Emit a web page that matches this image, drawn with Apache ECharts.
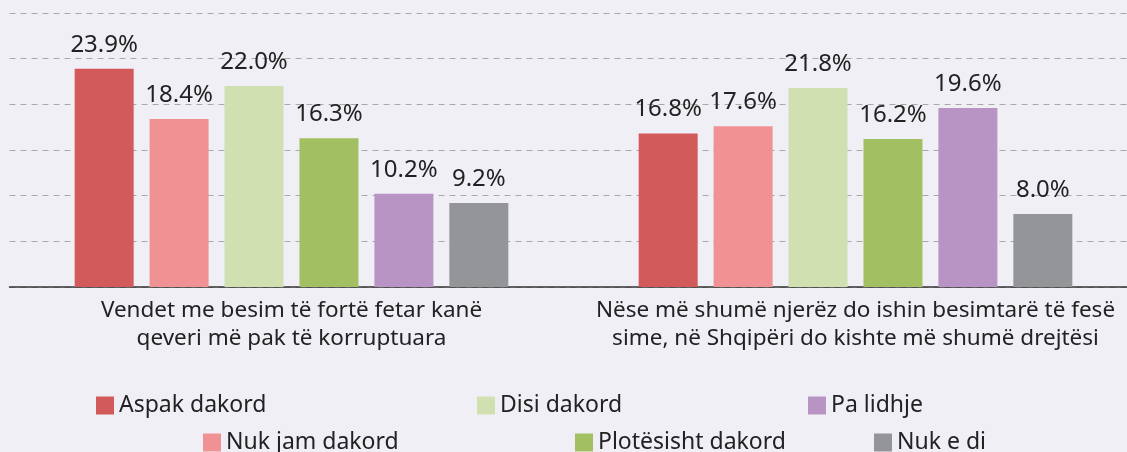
<!DOCTYPE html>
<html>
<head>
<meta charset="utf-8">
<script src="https://cdn.jsdelivr.net/npm/echarts@6/dist/echarts.min.js"></script>
<style>
	html, body { margin: 0; padding: 0; background: #f1eff6; }
	#chart { width: 1127px; height: 452px; }
</style>
</head>
<body>
<div id="chart"></div>
<script>
// ---------- DATA ----------
const categories = [
	'Vendet me besim të fortë fetar kanë\nqeveri më pak të korruptuara',
	'Nëse më shumë njerëz do ishin besimtarë të fesë\nsime, në Shqipëri do kishte më shumë drejtësi'
];
const seriesNames = ['Aspak dakord', 'Nuk jam dakord', 'Disi dakord', 'Plotësisht dakord', 'Pa lidhje', 'Nuk e di'];
const aspakDakord = [23.9, 16.8];
const nukJamDakord = [18.4, 17.6];
const disiDakord = [22.0, 21.8];
const plotesishtDakord = [16.3, 16.2];
const paLidhje = [10.2, 19.6];
const nukEDi = [9.2, 8.0];
const seriesValues = [aspakDakord, nukJamDakord, disiDakord, plotesishtDakord, paLidhje, nukEDi];
const colors = ['#d35a5b', '#f09293', '#d0e0b1', '#a2c062', '#b894c4', '#949599'];

// legend placement (two staggered rows)
const legendPos = [
	{left: 96, top: 394}, {left: 203, top: 431},
	{left: 477, top: 394}, {left: 575, top: 431},
	{left: 808, top: 394}, {left: 874, top: 431}
];

const FONT = '"Noto Sans", sans-serif';

var chart = echarts.init(document.getElementById('chart'));

let options = {
	backgroundColor: '#f1eff6',
	textStyle: { fontFamily: FONT },
	grid: {
		left: 9.5,
		width: 1128,
		top: 13,
		bottom: 165,
		outerBoundsMode: 'none'
	},
	xAxis: {
		type: 'category',
		data: categories,
		axisTick: { show: false },
		axisLine: {
			lineStyle: { color: '#333', width: 1.5 }
		},
		axisLabel: {
			interval: 0,
			margin: 10,
			fontSize: 22.5,
			lineHeight: 28,
			color: '#222',
			fontFamily: FONT
		}
	},
	yAxis: {
		type: 'value',
		min: 0,
		max: 30,
		interval: 5,
		axisLabel: { show: false },
		axisLine: { show: false },
		axisTick: { show: false },
		splitLine: {
			lineStyle: { color: '#a8a8a8', type: [6, 5], width: 1 }
		}
	},
	legend: legendPos.map((p, i) => ({
		data: [seriesNames[i]],
		left: p.left,
		top: p.top,
		padding: 0,
		icon: 'rect',
		itemWidth: 18,
		itemHeight: 18,
		textStyle: { fontSize: 23, color: '#222', fontFamily: FONT }
	})),
	series: seriesNames.map((name, i) => ({
		name: name,
		type: 'bar',
		data: seriesValues[i],
		barWidth: 59,
		barGap: '27%',
		itemStyle: { color: colors[i] },
		label: {
			show: true,
			position: 'top',
			distance: 12,
			fontSize: 24,
			color: '#222',
			fontFamily: FONT,
			formatter: p => p.value.toFixed(1) + '%'
		}
	}))
};

chart.setOption(options);
</script>
</body>
</html>
